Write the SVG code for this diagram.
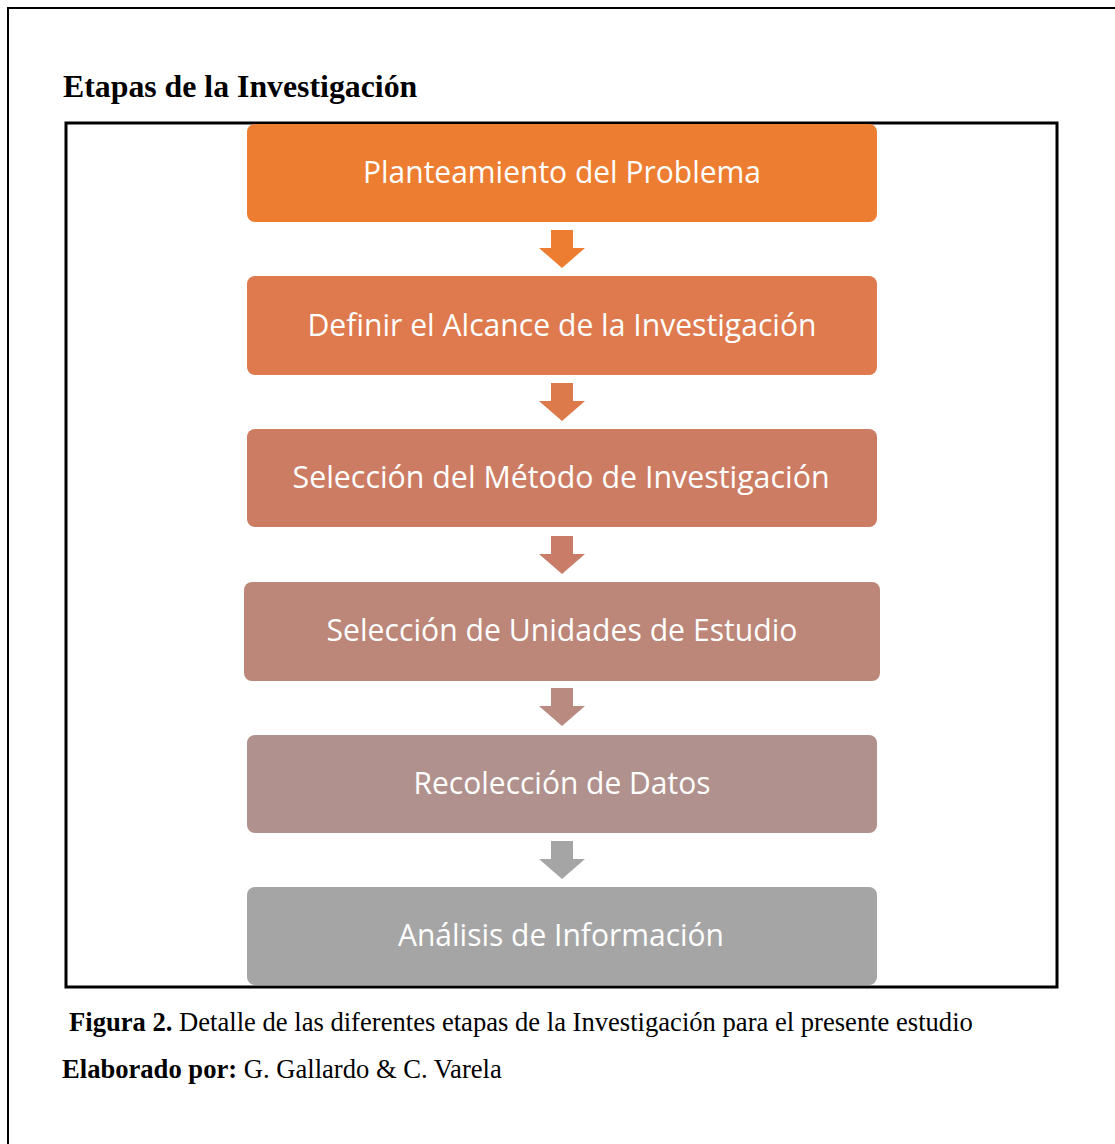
<svg xmlns="http://www.w3.org/2000/svg" width="1115" height="1144" viewBox="0 0 1115 1144">
<style>
.lbl{font-family:"Open Sans","Noto Sans",sans-serif;font-size:31px;fill:#fff;text-anchor:middle}
.ser{font-family:"Liberation Serif","Times New Roman",serif;fill:#000}
</style>
<rect x="0" y="0" width="1115" height="1144" fill="#fff"/>
<path d="M8,1144 V8 H1115" fill="none" stroke="#000" stroke-width="2"/>
<text class="ser" x="63" y="97" font-size="31.8" font-weight="bold">Etapas de la Investigación</text>
<rect x="66" y="123" width="991" height="864" fill="none" stroke="#000" stroke-width="3"/>
<g id="connectors">
<path d="M551,230 H573 V248 H585 L562,268 L539,248 H551 Z" fill="#ED7D31"/>
<path d="M551,383 H573 V401 H585 L562,421 L539,401 H551 Z" fill="#DD7A4B"/>
<path d="M551,536 H573 V554 H585 L562,574 L539,554 H551 Z" fill="#C97D68"/>
<path d="M551,688 H573 V706 H585 L562,726 L539,706 H551 Z" fill="#B98A80"/>
<path d="M551,841 H573 V859 H585 L562,879 L539,859 H551 Z" fill="#A5A5A5"/>
</g>
<g id="n1"><rect x="247" y="124" width="630" height="98" rx="8" fill="#ED7D31"/><text class="lbl" x="562" y="183" textLength="398" lengthAdjust="spacingAndGlyphs">Planteamiento del Problema</text></g>
<g id="n2"><rect x="247" y="276" width="630" height="99" rx="8" fill="#DE7A4D"/><text class="lbl" x="562" y="336" textLength="509" lengthAdjust="spacingAndGlyphs">Definir el Alcance de la Investigación</text></g>
<g id="n3"><rect x="247" y="429" width="630" height="98" rx="8" fill="#CD7C64"/><text class="lbl" x="561" y="488" textLength="537" lengthAdjust="spacingAndGlyphs">Selección del Método de Investigación</text></g>
<g id="n4"><rect x="244" y="582" width="636" height="99" rx="8" fill="#BC8678"/><text class="lbl" x="562" y="641" textLength="471" lengthAdjust="spacingAndGlyphs">Selección de Unidades de Estudio</text></g>
<g id="n5"><rect x="247" y="735" width="630" height="98" rx="8" fill="#B0918D"/><text class="lbl" x="562" y="794" textLength="297" lengthAdjust="spacingAndGlyphs">Recolección de Datos</text></g>
<g id="n6"><rect x="247" y="887" width="630" height="98" rx="8" fill="#A5A5A5"/><text class="lbl" x="561" y="946" textLength="326" lengthAdjust="spacingAndGlyphs">Análisis de Información</text></g>
<text class="ser" x="69" y="1031" font-size="26.6"><tspan font-weight="bold">Figura 2.</tspan> Detalle de las diferentes etapas de la Investigación para el presente estudio</text>
<text class="ser" x="62" y="1078" font-size="26.6"><tspan font-weight="bold">Elaborado por:</tspan> G. Gallardo &amp; C. Varela</text>
</svg>
